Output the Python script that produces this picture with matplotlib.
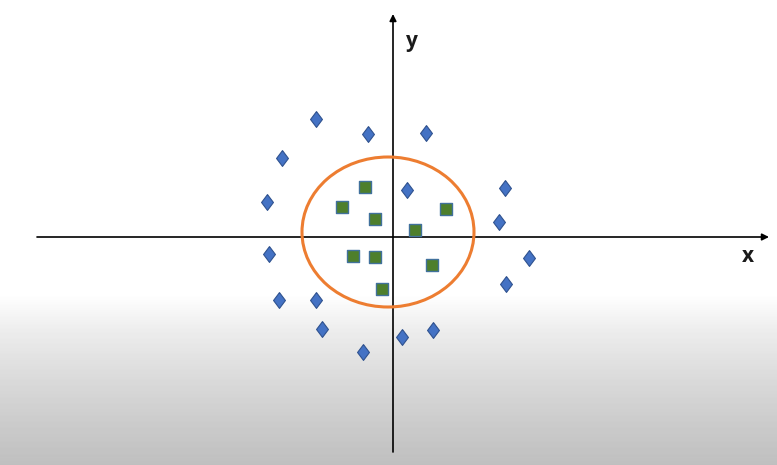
import numpy as np
import matplotlib.pyplot as plt
from matplotlib.patches import Ellipse

# points measured relative to the axis origin (1 unit = 1 pixel)
diamond_x = [-77, -25, 33, -111, 112, -126, 106, 14, 136, -124, 113, -114, -77, -71, 40, 9, -30]
diamond_y = [118, 103, 104, 79, 49, 35, 15, 47, -21, -17, -47, -63, -63, -92, -93, -100, -115]

square_x = [-28, -51, -18, 53, 22, -40, -18, 39, -11]
square_y = [50, 30, 18, 28, 7, -19, -20, -28, -52]

circle_center = (-5, 5)
circle_w, circle_h = 172, 150

W, H = 777, 465
ox, oy = 393, 237  # origin position in pixels

fig = plt.figure(figsize=(W / 100, H / 100), dpi=100)

# background: white fading into grey at the bottom (screenshot look)
bg = fig.add_axes([0, 0, 1, 1])
rows = np.arange(H)
stops_px = [0, 295, 330, 380, 430, 465]
stops_v = [1.0, 1.0, 0.93, 0.855, 0.79, 0.75]
shade = np.interp(rows, stops_px, stops_v)
img = np.repeat(shade[:, None], W, axis=1)
bg.imshow(img, cmap='gray', vmin=0, vmax=1, aspect='auto', extent=[0, W, H, 0])
bg.axis('off')

ax = fig.add_axes([0, 0, 1, 1])
ax.patch.set_alpha(0)
ax.set_xlim(-ox, W - ox)
ax.set_ylim(oy - H, oy)
ax.axis('off')

# axes with arrow heads
ax.annotate('', xy=(376, 0), xytext=(-356, 0),
            arrowprops=dict(arrowstyle='-|>', color='black', lw=1.2,
                            mutation_scale=10, shrinkA=0, shrinkB=0))
ax.annotate('', xy=(0, 223), xytext=(0, -215),
            arrowprops=dict(arrowstyle='-|>', color='black', lw=1.2,
                            mutation_scale=10, shrinkA=0, shrinkB=0))
ax.text(355, -19, 'x', fontsize=15, family='Open Sans', weight='bold',
        ha='center', va='center', color='#1a1a1a')
ax.text(19, 195, 'y', fontsize=15, family='Open Sans', weight='bold',
        ha='center', va='center', color='#1a1a1a')

ax.add_patch(Ellipse(circle_center, circle_w, circle_h, fill=False,
                     edgecolor='#ED7D31', lw=2.2, zorder=3))

# diamond a bit taller than wide
diamond = [(0, 1), (0.75, 0), (0, -1), (-0.75, 0), (0, 1)]
ax.scatter(diamond_x, diamond_y, marker=diamond, s=130, color='#4472C4',
           edgecolor='#2F528F', linewidth=0.8, zorder=4)
ax.scatter(square_x, square_y, marker='s', s=68, color='#4E7F2C',
           edgecolor='#41719C', linewidth=1.0, zorder=4)

fig.savefig('out.png', dpi=100)
